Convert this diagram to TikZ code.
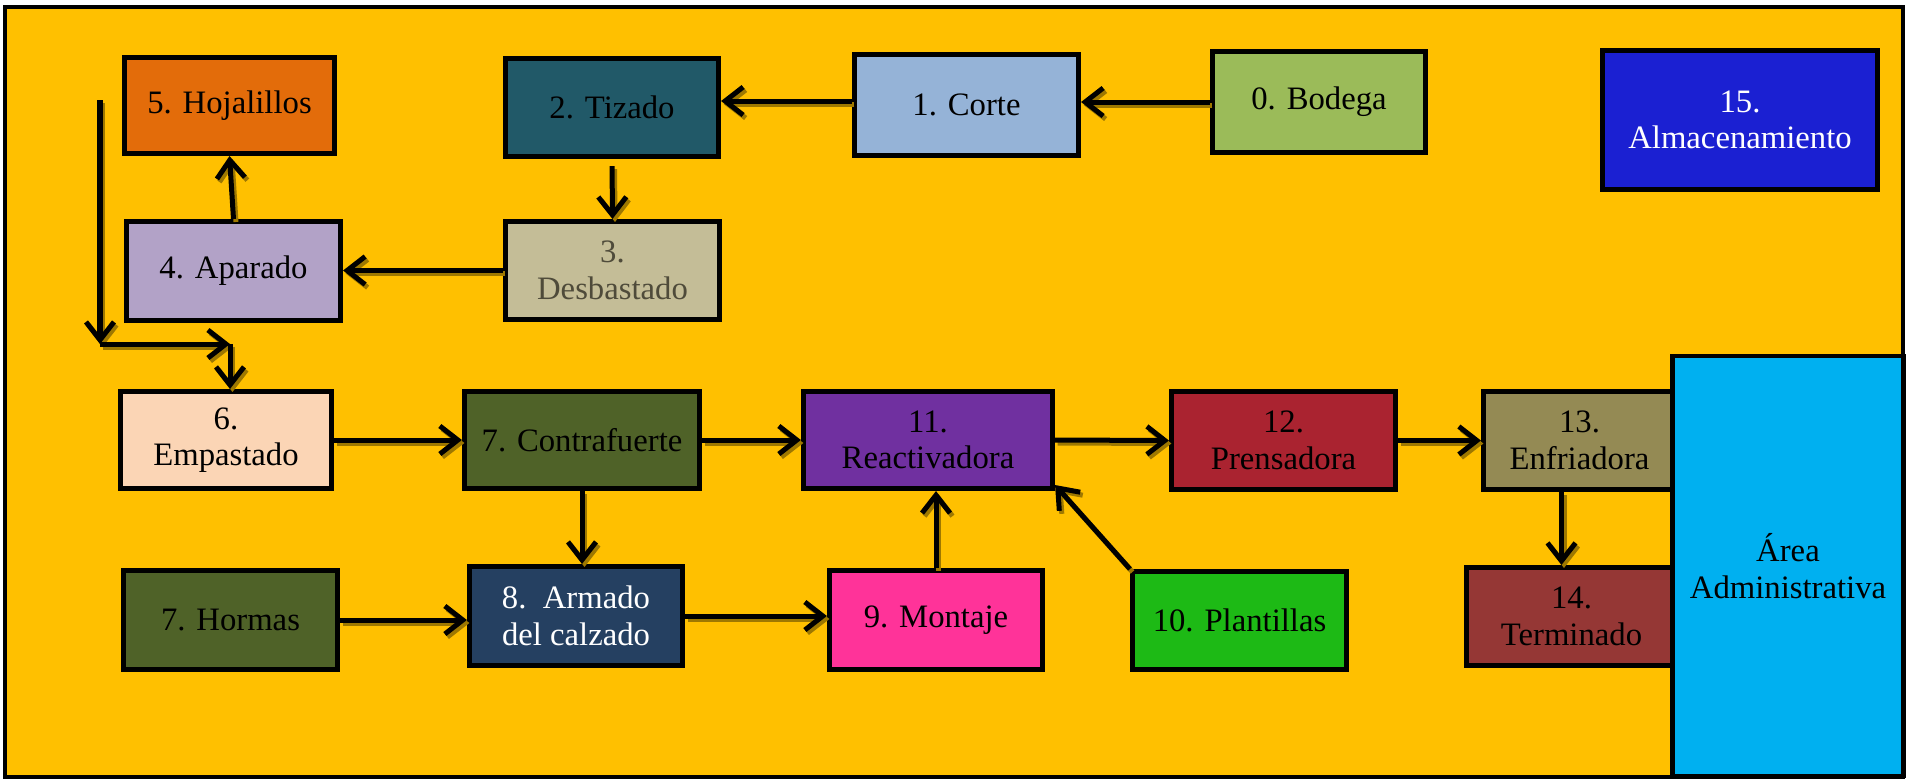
\documentclass[tikz,border=0pt]{standalone}
\usepackage{fontspec}
\setmainfont{Liberation Serif}
\usetikzlibrary{arrows.meta,calc}
\definecolor{bgY}{HTML}{FFC000}
\definecolor{shadowc}{HTML}{9E7800}
\definecolor{cHoja}{HTML}{E36C0A}
\definecolor{cTiz}{HTML}{215968}
\definecolor{cCorte}{HTML}{95B3D7}
\definecolor{cBod}{HTML}{9BBB59}
\definecolor{cAlm}{HTML}{1B20D2}
\definecolor{cApa}{HTML}{B2A2C7}
\definecolor{cDesb}{HTML}{C4BD97}
\definecolor{tDesb}{HTML}{4F4B3A}
\definecolor{cEmp}{HTML}{FBD5B5}
\definecolor{cOlive}{HTML}{4F6228}
\definecolor{cReact}{HTML}{7030A0}
\definecolor{cPrens}{HTML}{AA2330}
\definecolor{cEnf}{HTML}{948A54}
\definecolor{cTerm}{HTML}{953735}
\definecolor{cPlant}{HTML}{1DBA15}
\definecolor{cMont}{HTML}{FF3399}
\definecolor{cArm}{HTML}{254061}
\definecolor{cArea}{HTML}{00B0F0}
% connector with drop shadow: #1 extra options, #2 start, #3 end
\newcommand\conn[3][]{%
  \draw[arr, draw=shadowc, transform canvas={xshift=0.25mm,yshift=-0.3mm}, #1] #2 -- #3;
  \draw[arr, #1] #2 -- #3;}
\begin{document}
\begin{tikzpicture}[x=0.01cm,y=-0.01cm,
  box/.style={draw=black, line width=0.5mm, align=center, inner sep=0pt,
    font=\fontsize{9.3}{10.4}\selectfont},
  arr/.style={line width=0.5mm, -{Straight Barb[length=1.8mm,width=2.8mm]}}]
\useasboundingbox (0,0) rectangle (1914,781);
\draw[fill=bgY, line width=0.45mm] (5,7) rectangle (1903,777);

% top row
\node[box, fill=cHoja, minimum width=2.10cm, minimum height=0.96cm] (hoja) at (229.5,105.5) {5. Hojalillos};
\node[box, fill=cTiz, minimum width=2.13cm, minimum height=0.98cm] (tiz) at (612,107.5) {2. Tizado};
\node[box, fill=cCorte, minimum width=2.24cm, minimum height=1.01cm] (corte) at (966.5,105) {1. Corte};
\node[box, fill=cBod, minimum width=2.13cm, minimum height=1.01cm] (bod) at (1319,102) {0. Bodega};
\node[box, fill=cAlm, text=white, minimum width=2.75cm, minimum height=1.39cm] (alm) at (1740,120) {15.\\Almacenamiento};

% second row
\node[box, fill=cApa, minimum width=2.14cm, minimum height=0.99cm] (apa) at (233.5,271) {4. Aparado};
\node[box, fill=cDesb, text=tDesb, minimum width=2.14cm, minimum height=0.98cm] (desb) at (612.5,270.5) {3.\\Desbastado};

% third row
\node[box, fill=cEmp, minimum width=2.11cm, minimum height=0.97cm] (emp) at (226,440) {6.\\Empastado};
\node[box, fill=cOlive, minimum width=2.35cm, minimum height=0.97cm] (contra) at (582,440) {7. Contrafuerte};
\node[box, fill=cReact, minimum width=2.49cm, minimum height=0.97cm] (react) at (928,440) {11.\\Reactivadora};
\node[box, fill=cPrens, minimum width=2.24cm, minimum height=0.98cm] (prens) at (1283.5,440.5) {12.\\Prensadora};
\node[box, fill=cEnf, minimum width=1.92cm, minimum height=0.98cm] (enf) at (1579.5,440.5) {13.\\Enfriadora};

% fourth row
\node[box, fill=cOlive, minimum width=2.14cm, minimum height=0.99cm] (horm) at (230.5,620) {7. Hormas};
\node[box, fill=cArm, text=white, minimum width=2.13cm, minimum height=0.99cm] (arm) at (576,616) {8.~~Armado\\del calzado};
\node[box, fill=cMont, minimum width=2.13cm, minimum height=0.99cm] (mont) at (936,620) {9. Montaje};
\node[box, fill=cPlant, minimum width=2.14cm, minimum height=0.98cm] (plant) at (1239.5,620.5) {10. Plantillas};
\node[box, fill=cTerm, minimum width=2.10cm, minimum height=0.98cm] (term) at (1571.5,616.5) {14.\\Terminado};

% administrative area
\node[box, fill=cArea, line width=0.45mm, minimum width=2.31cm, minimum height=4.20cm] (area) at (1788,566) {Área\\Administrativa};

% connectors
\conn{(bod.west)}{(bod.west -| corte.east)}
\conn{([yshift=0.4mm]corte.west)}{([yshift=0.4mm]corte.west -| tiz.east)}
\conn[shorten <=0.7mm]{(tiz.south)}{(desb.north)}
\conn{(desb.west)}{(desb.west -| apa.east)}
\conn{(apa.north)}{(hoja.south)}

\coordinate (c1) at (100,100);
\coordinate (c2) at (100,344);
\coordinate (c3) at (230,344);
\conn{(c1)}{(c2)}
\conn{(c2)}{(c3)}
\conn{(c3)}{(c3 |- emp.north)}

\conn{(emp.east)}{(contra.west)}
\conn{(contra.east)}{(react.west)}
\conn{(react.east)}{(prens.west)}
\conn{(prens.east)}{(enf.west)}
\conn{(contra.south)}{(contra.south |- arm.north)}
\conn{(horm.east)}{(horm.east -| arm.west)}
\conn{(arm.east)}{(arm.east -| mont.west)}
\conn{(mont.north)}{(mont.north |- react.south)}
\conn{(plant.north west)}{([yshift=0.6mm]react.south east)}
\coordinate (e1) at ($(enf.south)+(-18,0)$);
\conn{(e1)}{(e1 |- term.north)}
\end{tikzpicture}
\end{document}
